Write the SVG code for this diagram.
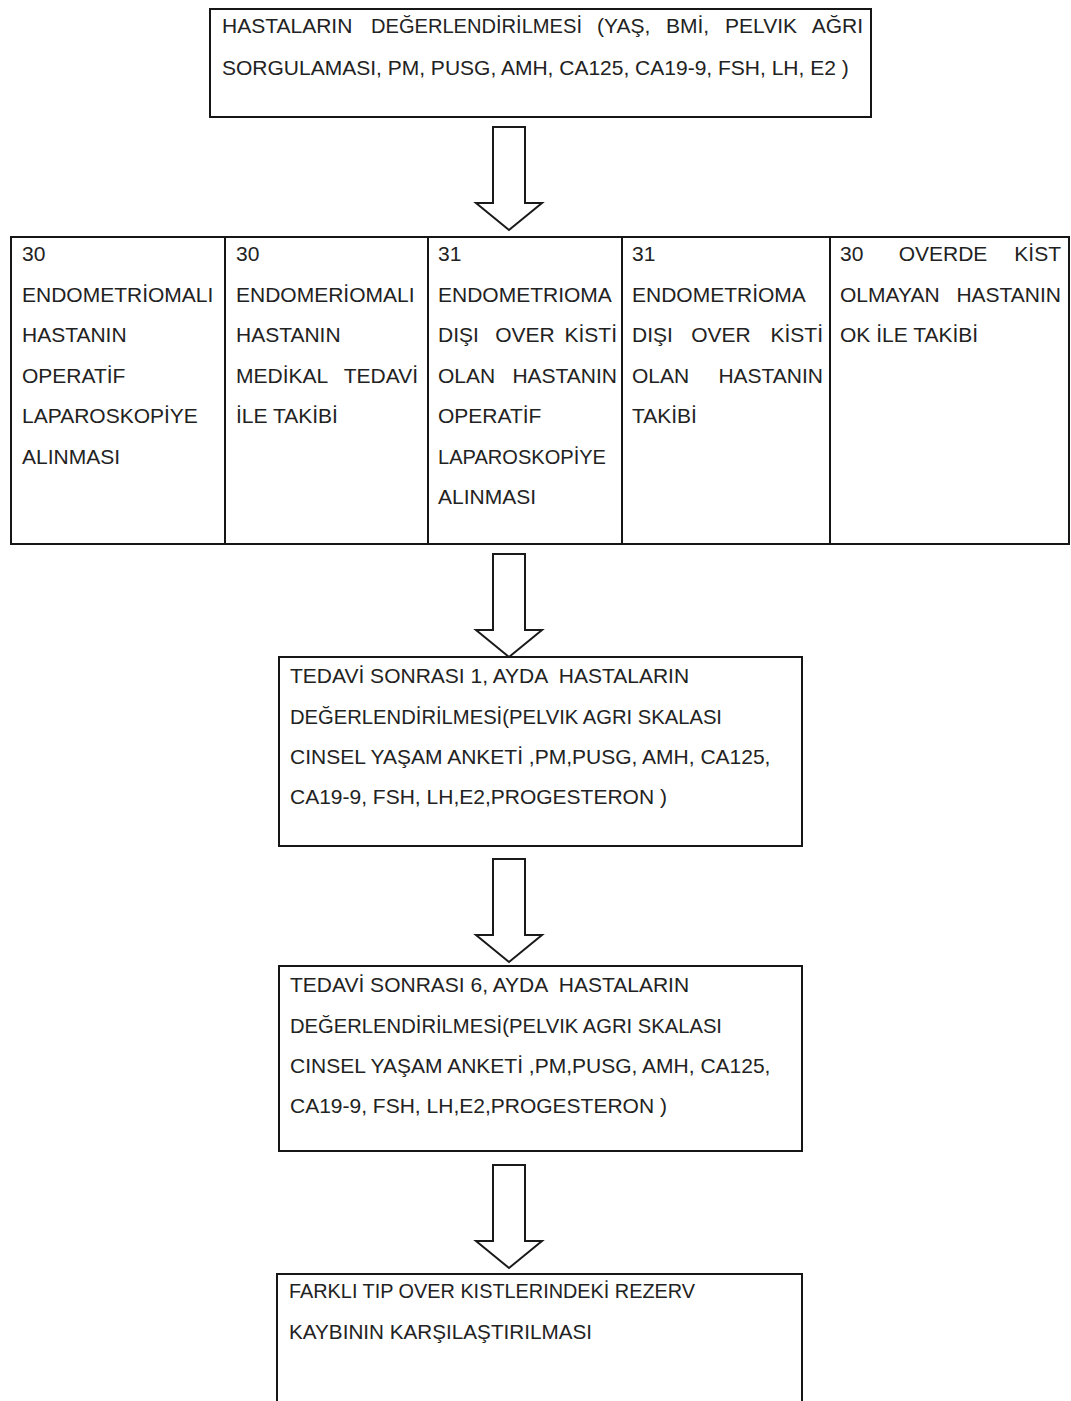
<svg xmlns="http://www.w3.org/2000/svg" width="1071" height="1401" viewBox="0 0 1071 1401">
  <style>
    .box { fill: #ffffff; stroke: #161616; stroke-width: 2; }
    .div { stroke: #161616; stroke-width: 2; }
    .arrow { fill: #ffffff; stroke: #1a1a1a; stroke-width: 2; stroke-linejoin: miter; }
    text { font-family: "Liberation Sans", Arial, sans-serif; font-size: 21px; fill: #222222; white-space: pre; }
    .end { text-anchor: end; }
    .mid { text-anchor: middle; }
  </style>
  <defs>
    <path id="blockArrow" d="M-16,-103 H16 V-27 H33 L0,0 L-33,-27 H-16 Z"/>
  </defs>
  <rect x="0" y="0" width="1071" height="1401" fill="#ffffff"/>

  <g id="node-degerlendirme">
    <rect class="box" x="210" y="9" width="661" height="108"/>
    <text x="222" y="33">HASTALARIN</text>
    <text x="371" y="33" textLength="211" lengthAdjust="spacingAndGlyphs">DEĞERLENDİRİLMESİ</text>
    <text x="597" y="33">(YAŞ,</text>
    <text x="666" y="33">BMİ,</text>
    <text x="725" y="33">PELVIK</text>
    <text x="863" y="33" class="end">AĞRI</text>
    <text x="222" y="75">SORGULAMASI, PM, PUSG, AMH, CA125, CA19-9, FSH, LH, E2 )</text>
  </g>

  <g id="node-groups">
    <rect class="box" x="11" y="237" width="1058" height="307"/>
    <line class="div" x1="225" y1="237" x2="225" y2="544"/>
    <line class="div" x1="428" y1="237" x2="428" y2="544"/>
    <line class="div" x1="622" y1="237" x2="622" y2="544"/>
    <line class="div" x1="830" y1="237" x2="830" y2="544"/>
  </g>

  <g id="node-group1">
    <text x="22" y="261">30</text>
    <text x="22" y="302">ENDOMETRİOMALI</text>
    <text x="22" y="342">HASTANIN</text>
    <text x="22" y="383">OPERATİF</text>
    <text x="22" y="423">LAPAROSKOPİYE</text>
    <text x="22" y="464">ALINMASI</text>
  </g>

  <g id="node-group2">
    <text x="236" y="261">30</text>
    <text x="236" y="302">ENDOMERİOMALI</text>
    <text x="236" y="342">HASTANIN</text>
    <text x="236" y="383">MEDİKAL</text>
    <text x="418" y="383" class="end">TEDAVİ</text>
    <text x="236" y="423">İLE TAKİBİ</text>
  </g>

  <g id="node-group3">
    <text x="438" y="261">31</text>
    <text x="438" y="302">ENDOMETRIOMA</text>
    <text x="438" y="342">DIŞI</text>
    <text x="525" y="342" class="mid">OVER</text>
    <text x="617" y="342" class="end">KİSTİ</text>
    <text x="438" y="383">OLAN</text>
    <text x="617" y="383" class="end">HASTANIN</text>
    <text x="438" y="423">OPERATİF</text>
    <text x="438" y="464" textLength="168" lengthAdjust="spacingAndGlyphs">LAPAROSKOPİYE</text>
    <text x="438" y="504">ALINMASI</text>
  </g>

  <g id="node-group4">
    <text x="632" y="261">31</text>
    <text x="632" y="302">ENDOMETRİOMA</text>
    <text x="632" y="342">DIŞI</text>
    <text x="721" y="342" class="mid">OVER</text>
    <text x="823" y="342" class="end">KİSTİ</text>
    <text x="632" y="383">OLAN</text>
    <text x="823" y="383" class="end">HASTANIN</text>
    <text x="632" y="423">TAKİBİ</text>
  </g>

  <g id="node-group5">
    <text x="840" y="261">30</text>
    <text x="943" y="261" class="mid">OVERDE</text>
    <text x="1061" y="261" class="end">KİST</text>
    <text x="840" y="302">OLMAYAN</text>
    <text x="1061" y="302" class="end">HASTANIN</text>
    <text x="840" y="342">OK İLE TAKİBİ</text>
  </g>

  <g id="node-ay1">
    <rect class="box" x="279" y="657" width="523" height="189"/>
    <text x="290" y="683" xml:space="preserve">TEDAVİ SONRASI 1, AYDA  HASTALARIN</text>
    <text x="290" y="724" textLength="432" lengthAdjust="spacingAndGlyphs">DEĞERLENDİRİLMESİ(PELVIK AGRI SKALASI</text>
    <text x="290" y="764">CINSEL YAŞAM ANKETİ ,PM,PUSG, AMH, CA125,</text>
    <text x="290" y="804">CA19-9, FSH, LH,E2,PROGESTERON )</text>
  </g>

  <g id="node-ay6">
    <rect class="box" x="279" y="966" width="523" height="185"/>
    <text x="290" y="992" xml:space="preserve">TEDAVİ SONRASI 6, AYDA  HASTALARIN</text>
    <text x="290" y="1033" textLength="432" lengthAdjust="spacingAndGlyphs">DEĞERLENDİRİLMESİ(PELVIK AGRI SKALASI</text>
    <text x="290" y="1073">CINSEL YAŞAM ANKETİ ,PM,PUSG, AMH, CA125,</text>
    <text x="290" y="1113">CA19-9, FSH, LH,E2,PROGESTERON )</text>
  </g>

  <g id="node-karsilastirma">
    <rect class="box" x="277" y="1274" width="525" height="140"/>
    <text x="289" y="1298" textLength="406" lengthAdjust="spacingAndGlyphs">FARKLI TIP OVER KISTLERINDEKİ REZERV</text>
    <text x="289" y="1339" textLength="303" lengthAdjust="spacingAndGlyphs">KAYBININ KARŞILAŞTIRILMASI</text>
  </g>

  <g id="connectors">
    <use href="#blockArrow" class="arrow" x="509" y="230"/>
    <use href="#blockArrow" class="arrow" x="509" y="657"/>
    <use href="#blockArrow" class="arrow" x="509" y="962"/>
    <use href="#blockArrow" class="arrow" x="509" y="1268"/>
  </g>
</svg>
